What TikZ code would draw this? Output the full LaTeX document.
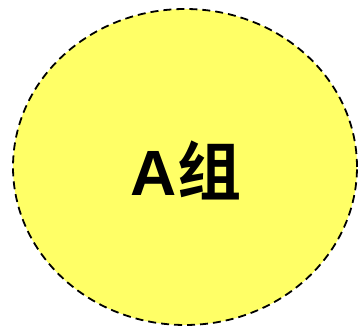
\documentclass[tikz,border=0pt]{standalone}
\usepackage{fontspec}
\setmainfont{Liberation Sans}
\newfontfamily\cjk{Noto Sans CJK SC}[BoldFont={* Bold}]
\definecolor{blobyellow}{HTML}{FFFF66}
\tikzset{groupblob/.style={draw=black, fill=blobyellow, line width=1.8pt, dash pattern=on 8pt off 5pt}}
\begin{document}
\begin{tikzpicture}[x=1pt,y=1pt]
\useasboundingbox (0,0) rectangle (359,328);
\path[groupblob] (185,161) ellipse [x radius=172, y radius=158];
\node (lbl) at (186,158) {\fontsize{64}{64}\selectfont\bfseries A{\cjk 组}};
\end{tikzpicture}
\end{document}
